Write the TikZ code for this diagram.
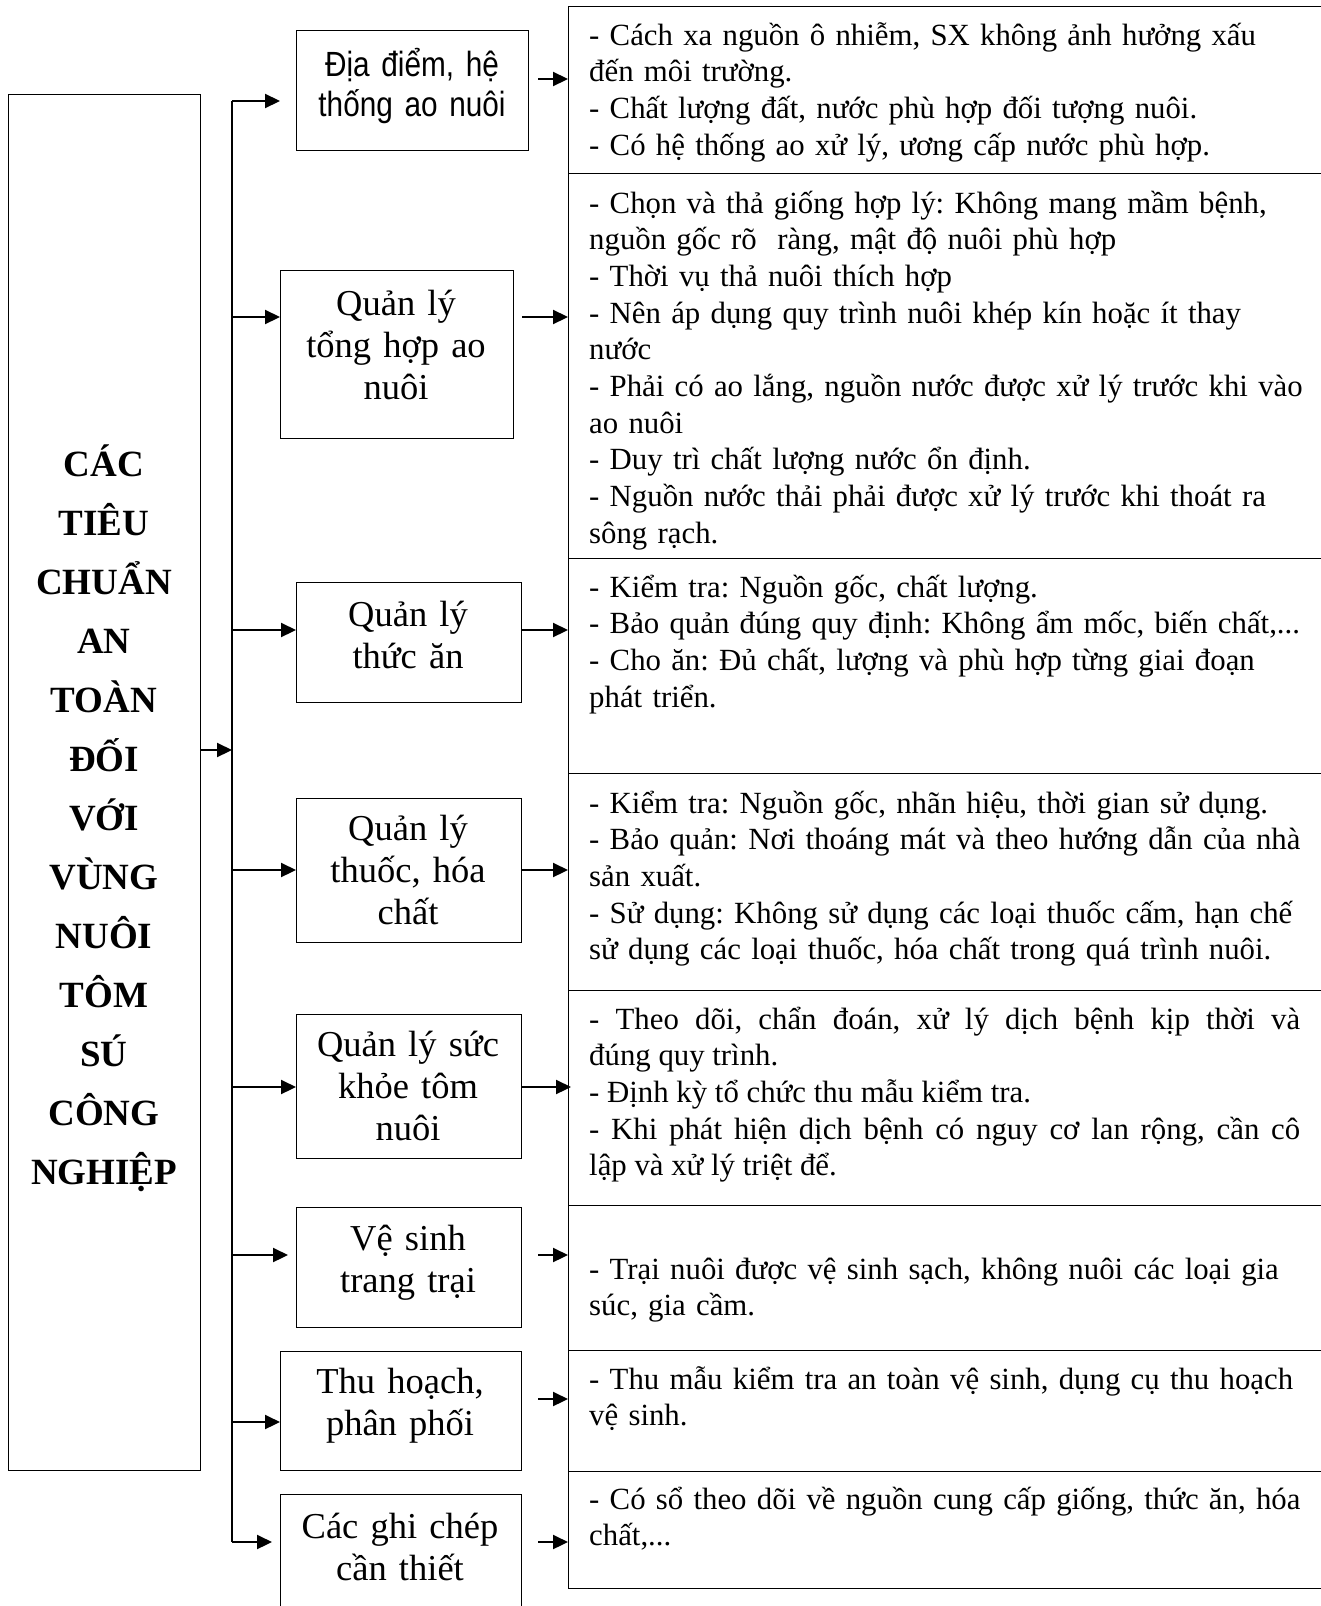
\documentclass[tikz,border=0pt]{standalone}
\usepackage{fontspec}
\setmainfont{Liberation Serif}
\newfontfamily\narrowsans{Liberation Sans}[FakeStretch=0.85]
\usetikzlibrary{arrows.meta}
\frenchspacing
\tikzset{
  boxline/.style={draw, line width=1.3pt, rectangle, inner sep=0pt},
  arr/.style={line width=2.2pt, -{Triangle[length=15pt,width=14pt]}},
  trunkline/.style={line width=1.4pt},
  rowtxt/.style={anchor=base west, inner sep=0pt, text width=740pt, align=left, font=\fontsize{30.8}{36.7}\selectfont\frenchspacing},
  rowjust/.style={rowtxt, text width=711pt, align=justify},
  lbl/.style={anchor=base, inner sep=0pt, text width=230pt, align=center, font=\fontsize{36.5}{42}\selectfont},
  mainlbl/.style={anchor=base, inner sep=0pt, text width=190pt, align=center, font=\fontsize{37}{59}\selectfont\bfseries},
}
\begin{document}
\begin{tikzpicture}[x=1pt, y=-1pt]
\useasboundingbox (0,0) rectangle (1320,1606);

% main box
\node[boxline, minimum width=192pt, minimum height=1376pt, anchor=north west] (m) at (8,94) {};
\node[mainlbl] (mt) at (104,476) {CÁC\\TIÊU\\CHUẨN\\AN\\TOÀN\\ĐỐI\\VỚI\\VÙNG\\NUÔI\\TÔM\\SÚ\\CÔNG\\NGHIỆP};

% left boxes
\node[boxline, minimum width=232pt, minimum height=120pt, anchor=north west] (b1) at (296,30) {};
\node[boxline, minimum width=233pt, minimum height=168pt, anchor=north west] (b2) at (280,270) {};
\node[boxline, minimum width=225pt, minimum height=120pt, anchor=north west] (b3) at (296,582) {};
\node[boxline, minimum width=225pt, minimum height=144pt, anchor=north west] (b4) at (296,798) {};
\node[boxline, minimum width=225pt, minimum height=144pt, anchor=north west] (b5) at (296,1014) {};
\node[boxline, minimum width=225pt, minimum height=120pt, anchor=north west] (b6) at (296,1207) {};
\node[boxline, minimum width=241pt, minimum height=119pt, anchor=north west] (b7) at (280,1351) {};
\node[boxline, minimum width=241pt, minimum height=150pt, anchor=north west] (b8) at (280,1494) {};

\node[lbl, font=\narrowsans\fontsize{35}{40}\selectfont] (t1) at (412,76) {Địa điểm, hệ\\thống ao nuôi};
\node[lbl] (t2) at (396,315) {Quản lý\\tổng hợp ao\\nuôi};
\node[lbl] (t3) at (408,626) {Quản lý\\thức ăn};
\node[lbl] (t4) at (408,840) {Quản lý\\thuốc, hóa\\chất};
\node[lbl] (t5) at (408,1056) {Quản lý sức\\khỏe tôm\\nuôi};
\node[lbl] (t6) at (408,1250) {Vệ sinh\\trang trại};
\node[lbl] (t7) at (400,1393) {Thu hoạch,\\phân phối};
\node[lbl] (t8) at (400,1538) {Các ghi chép\\cần thiết};

% right rows
\node[boxline, minimum width=760pt, minimum height=167pt, anchor=north west] (r1) at (568,6) {};
\node[boxline, minimum width=760pt, minimum height=385pt, anchor=north west] (r2) at (568,173) {};
\node[boxline, minimum width=760pt, minimum height=215pt, anchor=north west] (r3) at (568,558) {};
\node[boxline, minimum width=760pt, minimum height=217pt, anchor=north west] (r4) at (568,773) {};
\node[boxline, minimum width=760pt, minimum height=215pt, anchor=north west] (r5) at (568,990) {};
\node[boxline, minimum width=760pt, minimum height=145pt, anchor=north west] (r6) at (568,1205) {};
\node[boxline, minimum width=760pt, minimum height=121pt, anchor=north west] (r7) at (568,1350) {};
\node[boxline, minimum width=760pt, minimum height=117pt, anchor=north west] (r8) at (568,1471) {};

\node[rowtxt] (x1) at (589,45) {- Cách xa nguồn ô nhiễm, SX không ảnh hưởng xấu\\đến môi trường.\\- Chất lượng đất, nước phù hợp đối tượng nuôi.\\- Có hệ thống ao xử lý, ương cấp nước phù hợp.};
\node[rowtxt] (x2) at (589,213) {- Chọn và thả giống hợp lý: Không mang mầm bệnh,\\nguồn gốc rõ\ \ ràng, mật độ nuôi phù hợp\\- Thời vụ thả nuôi thích hợp\\- Nên áp dụng quy trình nuôi khép kín hoặc ít thay\\nước\\- Phải có ao lắng, nguồn nước được xử lý trước khi vào\\ao nuôi\\- Duy trì chất lượng nước ổn định.\\- Nguồn nước thải phải được xử lý trước khi thoát ra\\sông rạch.};
\node[rowtxt] (x3) at (589,597) {- Kiểm tra: Nguồn gốc, chất lượng.\\- Bảo quản đúng quy định: Không ẩm mốc, biến chất,...\\- Cho ăn: Đủ chất, lượng và phù hợp từng giai đoạn\\phát triển.};
\node[rowtxt] (x4) at (589,813) {- Kiểm tra: Nguồn gốc, nhãn hiệu, thời gian sử dụng.\\- Bảo quản: Nơi thoáng mát và theo hướng dẫn của nhà\\sản xuất.\\- Sử dụng: Không sử dụng các loại thuốc cấm, hạn chế\\sử dụng các loại thuốc, hóa chất trong quá trình nuôi.};
\node[rowjust] (x5) at (589,1029) {- Theo dõi, chẩn đoán, xử lý dịch bệnh kịp thời và\linebreak đúng quy trình.\\- Định kỳ tổ chức thu mẫu kiểm tra.\\- Khi phát hiện dịch bệnh có nguy cơ lan rộng, cần cô\linebreak lập và xử lý triệt để.};
\node[rowtxt] (x6) at (589,1279) {- Trại nuôi được vệ sinh sạch, không nuôi các loại gia\\súc, gia cầm.};
\node[rowtxt] (x7) at (589,1389) {- Thu mẫu kiểm tra an toàn vệ sinh, dụng cụ thu hoạch\\vệ sinh.};
\node[rowtxt] (x8) at (589,1509) {- Có sổ theo dõi về nguồn cung cấp giống, thức ăn, hóa\\chất,...};

% trunk
\coordinate (tr1) at (232,101);
\coordinate (tr2) at (232,317);
\coordinate (tr3) at (232,630);
\coordinate (tr4) at (232,870);
\coordinate (tr5) at (232,1087);
\coordinate (tr6) at (232,1255);
\coordinate (tr7) at (232,1422);
\coordinate (tr8) at (232,1542);
\coordinate (tm) at (232,750);
\draw[trunkline] (tr1) -- (tr8);
\draw[arr] (m.east |- tm) -- (tm);

\draw[arr, shorten >=16pt] (tr1) -- (b1.west |- tr1);
\draw[arr] (tr2) -- (b2.west |- tr2);
\draw[arr] (tr3) -- (b3.west |- tr3);
\draw[arr] (tr4) -- (b4.west |- tr4);
\draw[arr] (tr5) -- (b5.west |- tr5);
\draw[arr, shorten >=8pt] (tr6) -- (b6.west |- tr6);
\draw[arr] (tr7) -- (b7.west |- tr7);
\draw[arr, shorten >=8pt] (tr8) -- (b8.west |- tr8);

% out arrows
\draw[arr, shorten <=9pt] (b1.east |- 0,79) -- (r1.west |- 0,79);
\draw[arr, shorten <=8pt] (b2.east |- 0,317) -- (r2.west |- 0,317);
\draw[arr] (b3.east |- 0,630) -- (r3.west |- 0,630);
\draw[arr] (b4.east |- 0,870) -- (r4.west |- 0,870);
\draw[arr, shorten >=-3pt] (b5.east |- 0,1087) -- (r5.west |- 0,1087);
\draw[arr, shorten <=16pt] (b6.east |- 0,1255) -- (r6.west |- 0,1255);
\draw[arr, shorten <=16pt] (b7.east |- 0,1399) -- (r7.west |- 0,1399);
\draw[arr, shorten <=16pt] (b8.east |- 0,1542) -- (r8.west |- 0,1542);
\end{tikzpicture}
\end{document}
